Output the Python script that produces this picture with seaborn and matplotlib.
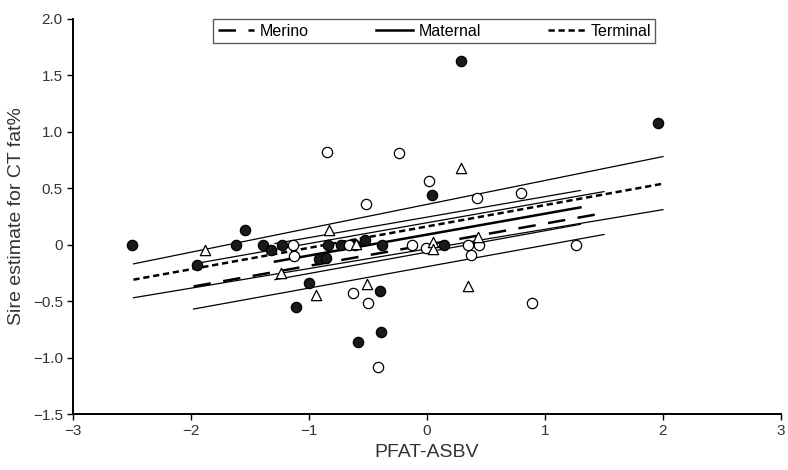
import matplotlib
matplotlib.use("Agg")
import matplotlib.pyplot as plt
import seaborn as sns
import pandas as pd

# sire points
terminal_x = [-2.50, -1.95, -1.62, -1.54, -1.39, -1.32, -1.23, -1.11, -1.00, -0.92,
              -0.86, -0.84, -0.73, -0.61, -0.53, -0.38, -0.40, -0.39, -0.59, 0.04,
              0.14, 0.29, 1.96]
terminal_y = [0.00, -0.18, 0.00, 0.13, 0.00, -0.05, 0.00, -0.55, -0.34, -0.13,
              -0.12, 0.00, 0.00, 0.00, 0.04, 0.00, -0.41, -0.77, -0.86, 0.44,
              0.00, 1.63, 1.08]

maternal_x = [-0.85, -0.24, 0.02, -0.52, 0.42, 0.80, -0.66, -0.13, -0.01, 0.35,
              0.44, 0.37, 1.26, -0.63, -0.50, 0.89, -0.42, -1.14, -1.13]
maternal_y = [0.82, 0.81, 0.56, 0.36, 0.41, 0.46, 0.00, 0.00, -0.03, 0.00,
              0.00, -0.09, 0.00, -0.43, -0.52, -0.52, -1.08, 0.00, -0.10]

merino_x = [-1.88, -0.83, -1.24, -0.94, 0.29, -0.51, 0.35, 0.05, 0.05, 0.43, -0.60]
merino_y = [-0.05, 0.13, -0.25, -0.45, 0.68, -0.35, -0.37, 0.02, -0.04, 0.07, 0.01]

# fitted lines and their confidence limits (end points)
merino_fit_x = [-1.98, 1.50]
merino_fit_y = [-0.37, 0.28]
merino_lo_y = [-0.57, 0.09]
merino_hi_y = [-0.17, 0.47]

maternal_fit_x = [-1.29, 1.30]
maternal_fit_y = [-0.15, 0.33]
maternal_lo_y = [-0.31, 0.18]
maternal_hi_y = [0.01, 0.48]

terminal_fit_x = [-2.49, 2.00]
terminal_fit_y = [-0.31, 0.54]
terminal_lo_y = [-0.47, 0.31]
terminal_hi_y = [-0.17, 0.78]

plt.rcParams['font.family'] = ['Liberation Sans', 'DejaVu Sans']

fig = plt.figure(figsize=(7.88, 4.70), dpi=100)
ax = fig.add_axes([0.093, 0.119, 0.898, 0.841])

pts = dict(s=55, linewidth=0.9, edgecolor='black', zorder=3)
sns.scatterplot(x=terminal_x, y=terminal_y, marker='o', color='#1a1a1a', ax=ax, **pts)
sns.scatterplot(x=maternal_x, y=maternal_y, marker='o', color='white', ax=ax, **pts)
sns.scatterplot(x=merino_x, y=merino_y, marker='^', color='white', ax=ax, **pts)

# confidence limits, thin solid
for fx, lo, hi in [(merino_fit_x, merino_lo_y, merino_hi_y),
                   (maternal_fit_x, maternal_lo_y, maternal_hi_y),
                   (terminal_fit_x, terminal_lo_y, terminal_hi_y)]:
    sns.lineplot(x=fx, y=lo, color='black', linewidth=0.9, ax=ax)
    sns.lineplot(x=fx, y=hi, color='black', linewidth=0.9, ax=ax)

# fitted lines
sns.lineplot(x=merino_fit_x, y=merino_fit_y, color='black', linewidth=1.8,
             linestyle=(0, (7, 5)), label='Merino', ax=ax)
sns.lineplot(x=maternal_fit_x, y=maternal_fit_y, color='black', linewidth=1.8,
             linestyle='-', label='Maternal', ax=ax)
sns.lineplot(x=terminal_fit_x, y=terminal_fit_y, color='black', linewidth=1.8,
             linestyle=(0, (2.5, 1.5)), label='Terminal', ax=ax)

ax.set_xlim(-3, 3)
ax.set_ylim(-1.5, 2.0)
ax.set_xticks([-3, -2, -1, 0, 1, 2, 3])
ax.set_xticklabels(['\u22123', '\u22122', '\u22121', '0', '1', '2', '3'])
ax.set_yticks([-1.5, -1.0, -0.5, 0, 0.5, 1.0, 1.5, 2.0])
ax.set_yticklabels(['\u22121.5', '\u22121.0', '\u22120.5', '0', '0.5', '1.0', '1.5', '2.0'])
ax.tick_params(labelsize=11, colors='black', labelcolor='#333333', length=4, width=1)
for s in ['top', 'right']:
    ax.spines[s].set_visible(False)
for s in ['left', 'bottom']:
    ax.spines[s].set_linewidth(1.4)

ax.set_xlabel('PFAT-ASBV', fontsize=14, color='#333333', labelpad=4)
ax.set_ylabel('Sire estimate for CT fat%', fontsize=14, color='#333333', labelpad=6)

handles, labels = ax.get_legend_handles_labels()
leg = ax.legend(handles, labels, ncol=3, loc='upper center', bbox_to_anchor=(0.51, 1.012),
                frameon=True, fancybox=False, edgecolor='#333333', fontsize=11.5,
                handlelength=2.3, columnspacing=4.2, handletextpad=0.35,
                borderpad=0.3, borderaxespad=0.3)
leg.get_frame().set_linewidth(1.0)

fig.savefig('out.png', dpi=100)
